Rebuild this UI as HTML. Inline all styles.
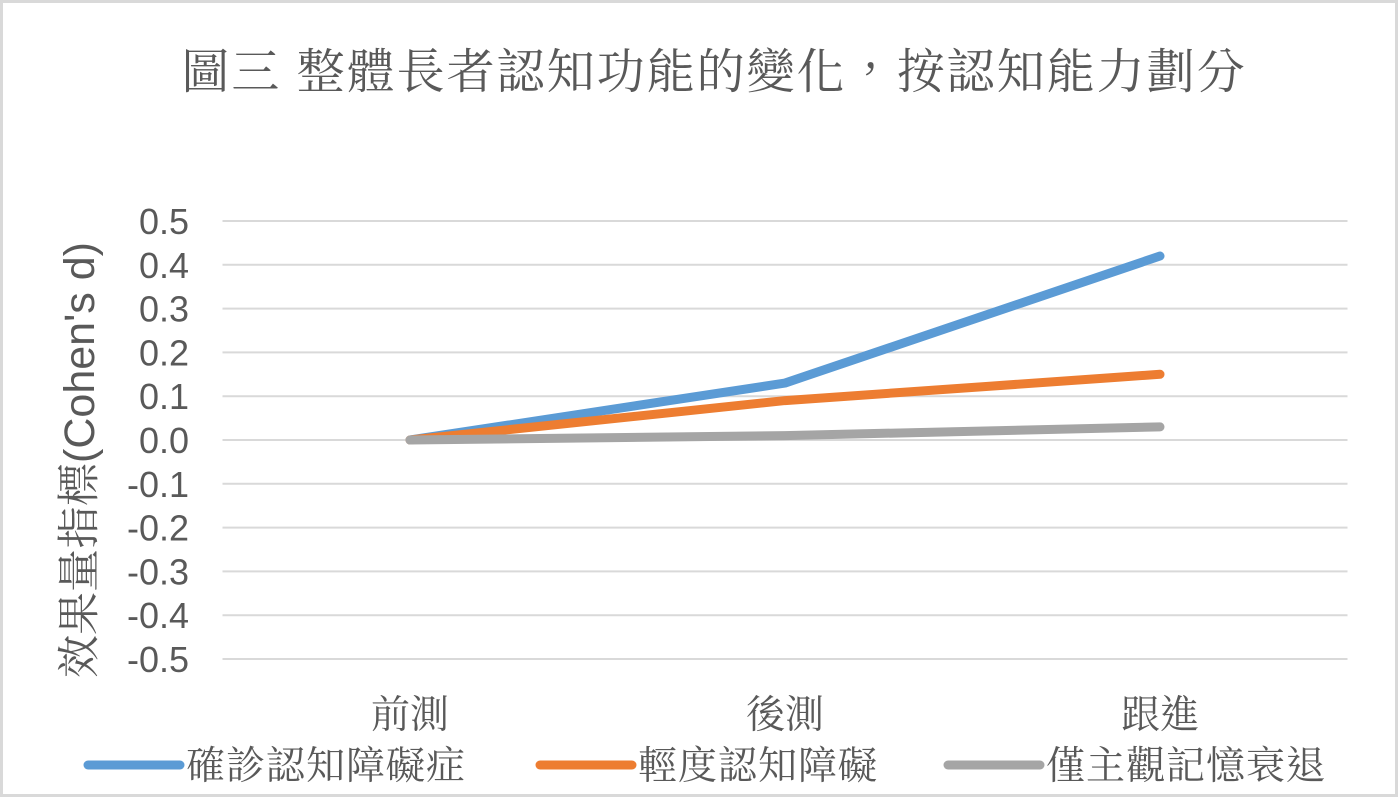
<!DOCTYPE html>
<html><head><meta charset="utf-8">
<style>
body{margin:0;background:#fff}
#c{position:relative;width:1398px;height:797px;box-sizing:border-box;border:3px solid #d9d9d9;background:#fff}
svg text{font-family:"Liberation Sans","Noto Serif CJK TC","Noto Serif CJK SC",serif;fill:#595959}
</style></head><body>
<div id="c">
<svg id="s" width="1392" height="791" viewBox="3 3 1392 791" style="position:absolute;left:0;top:0"></svg>
</div>
<script>
const categories=["前測","後測","跟進"];
const yTicks=[0.5,0.4,0.3,0.2,0.1,0.0,-0.1,-0.2,-0.3,-0.4,-0.5];
const seriesNames=["確診認知障礙症","輕度認知障礙","僅主觀記憶衰退"];
const seriesColors=["#5b9bd5","#ed7d31","#a5a5a5"];
const s1=[0,0.13,0.42];
const s2=[0,0.09,0.15];
const s3=[0,0.01,0.03];
const series=[s1,s2,s3];
const NS="http://www.w3.org/2000/svg";
const svg=document.getElementById('s');
const L=222.5,R=1347.5,T=221,B=659;
const y=v=>T+(0.5-v)/1.0*(B-T);
const bw=(R-L)/categories.length;
const x=i=>L+bw*(i+0.5);
function mk(t,a){const e=document.createElementNS(NS,t);for(const k in a)e.setAttribute(k,a[k]);svg.appendChild(e);return e;}
let t=mk('text',{x:714,y:88,'text-anchor':'middle','font-size':48,'letter-spacing':2});t.textContent="圖三  整體長者認知功能的變化，按認知能力劃分";


yTicks.forEach(v=>{
 const g=mk('line',{x1:L,x2:R,y1:y(v),y2:y(v),stroke:'#d9d9d9','stroke-width':2});
 
 
 const l=mk('text',{x:189,y:y(v)+13,'text-anchor':'end','font-size':36});l.textContent=v.toFixed(1);
 
 
});
t=mk('text',{x:0,y:0,'text-anchor':'middle','font-size':43,transform:`translate(94,${(T+B)/2+20}) rotate(-90)`});t.textContent="效果量指標(Cohen's d)";


categories.forEach((c,i)=>{const l=mk('text',{x:x(i),y:728,'text-anchor':'middle','font-size':39});l.textContent=c;
 
 });
series.forEach((d,si)=>{
 const p=mk('polyline',{points:d.map((v,i)=>x(i)+','+y(v)).join(' '),fill:'none',stroke:seriesColors[si],'stroke-width':9,'stroke-linecap':'round','stroke-linejoin':'round'});
 
 
});
const lx=[88,540,948];
seriesNames.forEach((n,si)=>{
 const ln=mk('line',{x1:lx[si],x2:lx[si]+92,y1:765,y2:765,stroke:seriesColors[si],'stroke-width':9,'stroke-linecap':'round'});
 
 
 const tx=mk('text',{x:lx[si]+98,y:779,'font-size':39,'letter-spacing':1});tx.textContent=n;
 
 
});
</script>
</body></html>
